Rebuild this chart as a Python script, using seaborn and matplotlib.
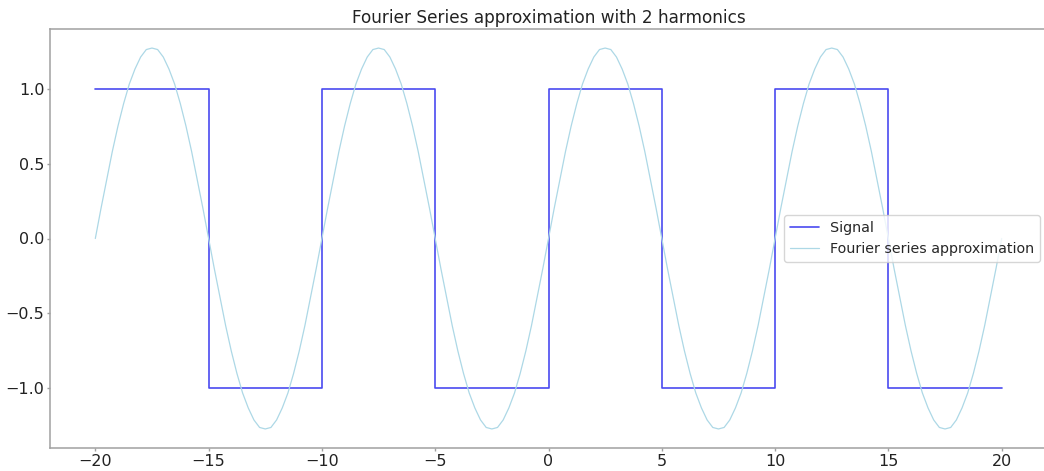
import numpy as np
import pandas as pd
import matplotlib
matplotlib.use("Agg")
import matplotlib.pyplot as plt
import seaborn as sns

# square wave signal (step edges, value held until next edge)
signal_x = [-20, -15, -10, -5, 0, 5, 10, 15, 20]
signal_y = [1, -1, 1, -1, 1, -1, 1, -1, -1]

# fourier approximation, every 0.25 units from -20 to 20
approx_x = np.linspace(-20, 20, 161)
approx_y = [
    0.00, 0.20, 0.39, 0.58, 0.75, 0.90, 1.03, 1.13, 1.21, 1.26, 1.27, 1.26, 1.21, 1.13, 1.03, 0.90, 0.75, 0.58, 0.39, 0.20,
    0.00, -0.20, -0.39, -0.58, -0.75, -0.90, -1.03, -1.13, -1.21, -1.26, -1.27, -1.26, -1.21, -1.13, -1.03, -0.90, -0.75, -0.58, -0.39, -0.20,
    0.00, 0.20, 0.39, 0.58, 0.75, 0.90, 1.03, 1.13, 1.21, 1.26, 1.27, 1.26, 1.21, 1.13, 1.03, 0.90, 0.75, 0.58, 0.39, 0.20,
    0.00, -0.20, -0.39, -0.58, -0.75, -0.90, -1.03, -1.13, -1.21, -1.26, -1.27, -1.26, -1.21, -1.13, -1.03, -0.90, -0.75, -0.58, -0.39, -0.20,
    0.00, 0.20, 0.39, 0.58, 0.75, 0.90, 1.03, 1.13, 1.21, 1.26, 1.27, 1.26, 1.21, 1.13, 1.03, 0.90, 0.75, 0.58, 0.39, 0.20,
    0.00, -0.20, -0.39, -0.58, -0.75, -0.90, -1.03, -1.13, -1.21, -1.26, -1.27, -1.26, -1.21, -1.13, -1.03, -0.90, -0.75, -0.58, -0.39, -0.20,
    0.00, 0.20, 0.39, 0.58, 0.75, 0.90, 1.03, 1.13, 1.21, 1.26, 1.27, 1.26, 1.21, 1.13, 1.03, 0.90, 0.75, 0.58, 0.39, 0.20,
    0.00, -0.20, -0.39, -0.58, -0.75, -0.90, -1.03, -1.13, -1.21, -1.26, -1.27, -1.26, -1.21, -1.13, -1.03, -0.90, -0.75, -0.58, -0.39, -0.20,
    0.00,
]

title = "Fourier Series approximation with 2 harmonics"

sns.set_style("white", {"axes.edgecolor": "#a0a0a0", "xtick.bottom": True, "ytick.left": True,
                        "xtick.color": "#a0a0a0", "ytick.color": "#a0a0a0"})
plt.rcParams['font.family'] = ['DejaVu Sans']

df_sig = pd.DataFrame({'x': signal_x, 'y': signal_y})
df_app = pd.DataFrame({'x': approx_x, 'y': approx_y})

fig = plt.figure(figsize=(10.44, 4.71), dpi=100)
ax = fig.add_axes([50 / 1044, 23 / 471, 997 / 1044, 419 / 471])

sns.lineplot(data=df_sig, x='x', y='y', ax=ax, color='#4a4af0', lw=1.2,
             drawstyle='steps-post', label='Signal')
sns.lineplot(data=df_app, x='x', y='y', ax=ax, color='lightblue', lw=0.9,
             label='Fourier series approximation')

ax.set_xticks([-20, -15, -10, -5, 0, 5, 10, 15, 20])
ax.set_yticks([-1.0, -0.5, 0.0, 0.5, 1.0])
ax.tick_params(labelsize=11.5, labelcolor='#222222', length=2.5, width=1, pad=1.5)
for s in ax.spines.values():
    s.set_linewidth(1.1)
ax.spines['right'].set_visible(False)
ax.set_xlabel('')
ax.set_ylabel('')
ax.set_title(title, fontsize=12.2, color='#222222', pad=4)
ax.legend(loc='center right', fontsize=10.3, frameon=True)

fig.savefig('out.png', dpi=100)
